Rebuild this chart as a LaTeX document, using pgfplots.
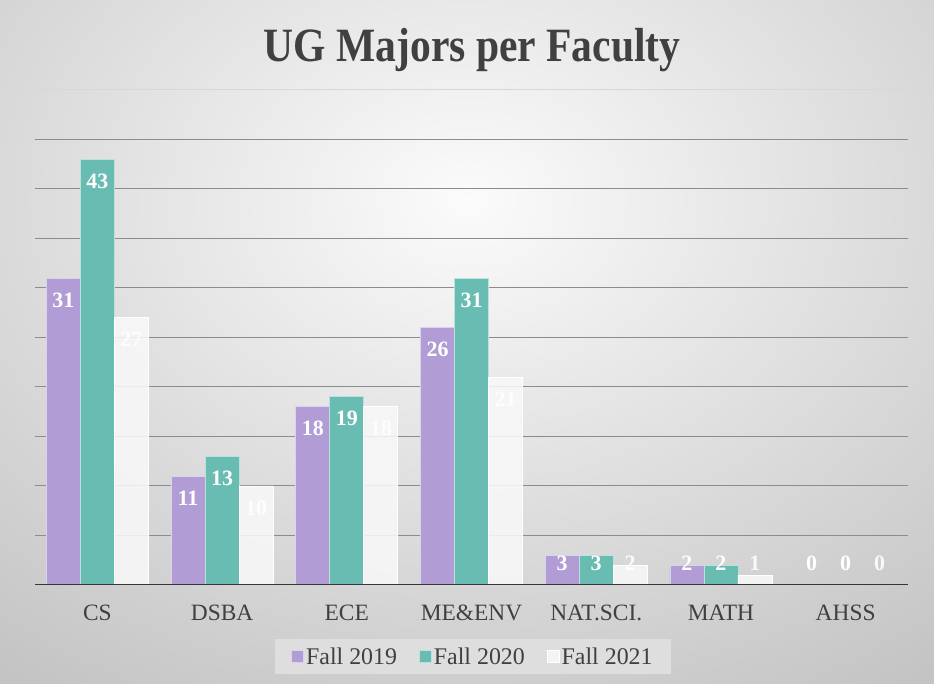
\documentclass[border=0pt]{standalone}
\usepackage{fontspec}
\setmainfont{Liberation Serif}
\usepackage{graphicx}
\usepackage{pgfplots}
\pgfplotsset{compat=1.18}
\definecolor{c19}{RGB}{177,156,214}
\definecolor{c20}{RGB}{104,188,178}
\definecolor{c21}{RGB}{248,248,248}
\definecolor{txt}{RGB}{64,64,64}
\definecolor{gridc}{RGB}{140,140,140}
\definecolor{bgin}{RGB}{251,251,251}
\definecolor{bgout}{RGB}{196,196,196}
\definecolor{legbg}{RGB}{222,222,222}
\begin{document}
\begin{tikzpicture}[x=1bp,y=1bp]
\useasboundingbox (0,0) rectangle (934,684);
\begin{scope}
\clip (0,0) rectangle (934,684);
\shade[inner color=bgin, outer color=bgout] (-300,-100) rectangle (1234,1068);
\end{scope}
\begin{axis}[
  at={(35bp,99bp)}, anchor=south west,
  scale only axis, width=873bp, height=495bp,
  xmin=-0.5, xmax=6.5, ymin=0, ymax=50,
  ybar=0pt, bar width=34bp,
  axis line style={draw=none},
  major tick length=0pt,
  xtick={0,...,6},
  xticklabels={CS,DSBA,ECE,ME\&ENV,NAT.SCI.,MATH,AHSS},
  xticklabel style={anchor=base, yshift=-36bp, font=\fontsize{23.5}{28}\selectfont, text=txt},
  ytick={5,10,...,45}, yticklabels={},
  ymajorgrids, grid style={gridc, line width=1bp},
  extra y ticks={50}, extra y tick labels={},
  extra y tick style={grid style={gridc!35!white, line width=1bp}},
  /pgf/number format/assume math mode=true,
  nodes near coords,
  visualization depends on={y \as \rawy},
  every node near coord/.append style={anchor=center, text=white,
    font=\bfseries\fontsize{22}{26}\selectfont,
    yshift={ifthenelse(\rawy>4.44,-22,(2.22-\rawy)*9.9)}},
  title={\scalebox{0.87}[1]{UG Majors per Faculty}},
  title style={at={(0.5006,1.0455)}, anchor=base, font=\bfseries\fontsize{48}{54}\selectfont, text=txt},
  legend style={at={(0.5017,-0.1444)}, anchor=center, fill=legbg, draw=none,
    legend columns=3, font=\fontsize{24}{28}\selectfont, text=txt,
    inner xsep=16bp, inner ysep=6bp,
    /tikz/every even column/.append style={column sep=20bp}},
  legend image code/.code={\fill[#1] (0bp,-6bp) rectangle (12bp,6bp);},
]
\addplot[fill=c19, draw=c19!45!white, line width=0.8bp] coordinates {(0,31) (1,11) (2,18) (3,26) (4,3) (5,2) (6,0)};
\addplot[fill=c20, draw=c20!45!white, line width=0.8bp] coordinates {(0,43) (1,13) (2,19) (3,31) (4,3) (5,2) (6,0)};
\addplot[fill=c21, fill opacity=0.88, draw=white, line width=0.8bp] coordinates {(0,27) (1,10) (2,18) (3,21) (4,2) (5,1) (6,0)};
\legend{Fall 2019, Fall 2020, Fall 2021}
\draw[color=txt!85!black, line width=2bp] (rel axis cs:0,0) -- (rel axis cs:1,0);
\end{axis}
\end{tikzpicture}
\end{document}
